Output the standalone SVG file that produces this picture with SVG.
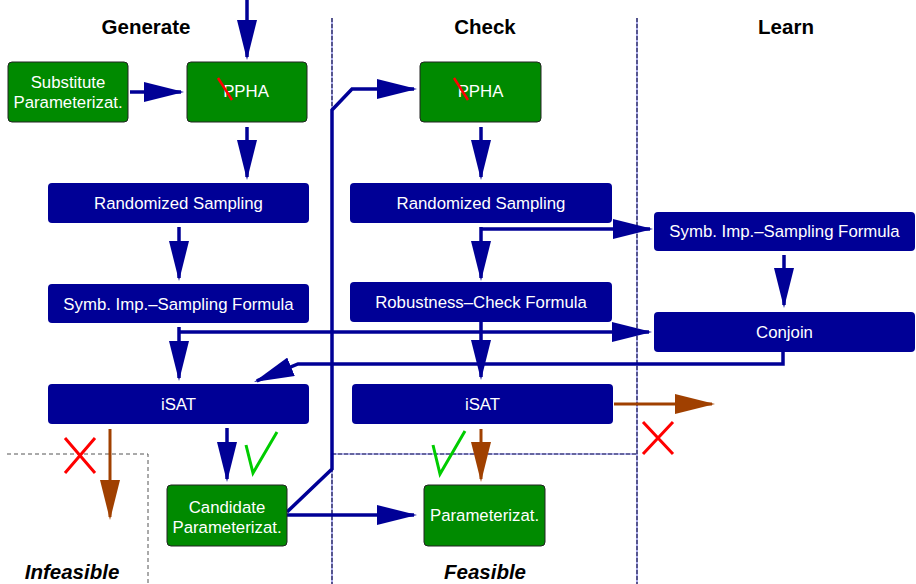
<svg xmlns="http://www.w3.org/2000/svg" width="916" height="584" viewBox="0 0 916 584">
  <style>
    .title { font-family: "Liberation Sans", Arial, sans-serif; font-size: 20.5px; font-weight: bold; fill: #000; text-anchor: middle; }
    .verdict { font-family: "Liberation Sans", Arial, sans-serif; font-size: 20.5px; font-weight: bold; font-style: italic; fill: #000; text-anchor: middle; }
    .lbl { font-family: "Liberation Sans", Arial, sans-serif; font-size: 16.8px; fill: #fff; text-anchor: middle; }
    .navy { fill: #000096; }
    .green { fill: #008a00; stroke: #222; stroke-width: 1; }
    .flow { fill: none; stroke: #000096; stroke-width: 3.5; marker-end: url(#ahNavy); }
    .plain { fill: none; stroke: #000096; stroke-width: 3.5; }
    .fail { fill: none; stroke: #a04000; stroke-width: 3; marker-end: url(#ahBrown); }
    .laneBase { stroke: #9a9ae8; stroke-width: 1.6; fill: none; }
    .laneDash { stroke: #1c1c50; stroke-width: 1.2; stroke-dasharray: 4 2; fill: none; }
    .grayDash { stroke: #555; stroke-width: 1; stroke-dasharray: 4 3; fill: none; }
    .cross { stroke: #ff0000; stroke-width: 3; fill: none; }
    .tick { stroke: #00cc00; stroke-width: 3; fill: none; }
    .strike { stroke: #ff0000; stroke-width: 2.5; }
  </style>
  <defs>
    <marker id="ahNavy" markerUnits="userSpaceOnUse" markerWidth="40" markerHeight="20" refX="37" refY="10" orient="auto">
      <path d="M0,0 L40,10 L0,20 z" fill="#000096"/>
    </marker>
    <marker id="ahBrown" markerUnits="userSpaceOnUse" markerWidth="40" markerHeight="20" refX="37" refY="10" orient="auto">
      <path d="M0,0 L40,10 L0,20 z" fill="#a04000"/>
    </marker>
  </defs>

  <rect width="916" height="584" fill="#fff"/>

  <!-- lane separators -->
  <g id="lanes">
    <path class="laneBase" d="M332,18 V584 M637,18 V584 M332,454 H637"/>
    <path class="laneDash" d="M332,18 V584 M637,18 V584 M332,454 H637"/>
    <path class="grayDash" d="M7,454 H148 V584"/>
  </g>

  <!-- headings -->
  <g id="headings">
    <text class="title" x="146" y="34">Generate</text>
    <text class="title" x="485" y="34">Check</text>
    <text class="title" x="786" y="34">Learn</text>
    <text class="verdict" x="72" y="579">Infeasible</text>
    <text class="verdict" x="485" y="579">Feasible</text>
  </g>

  <!-- connectors -->
  <g id="connectors">
    <path class="flow" d="M247,0 V57"/>
    <path class="flow" d="M130,92 H181"/>
    <path class="flow" d="M247,127 V177"/>
    <path class="flow" d="M179,227 V278"/>
    <path class="flow" d="M179,327 V378"/>
    <path class="flow" d="M179,332 H649"/>
    <path class="flow" d="M783,352 V364 H298 L256.8,380.9"/>
    <path class="flow" d="M481,127 V177"/>
    <path class="flow" d="M481,227 V278"/>
    <path class="flow" d="M481,229 H650"/>
    <path class="flow" d="M481,322 V377"/>
    <path class="flow" d="M784,255 V305"/>
    <path class="flow" d="M227,428 V479"/>
    <path class="flow" d="M287,512 L332,469 V110 L352,89 H414"/>
    <path class="flow" d="M287,515 H414"/>
    <path class="fail" d="M110,429 V517"/>
    <path class="fail" d="M481,429 V479"/>
    <path class="fail" d="M614,404 H712"/>
  </g>

  <!-- generate lane -->
  <g id="substitute">
    <rect class="green" x="8" y="62" width="120" height="60" rx="4"/>
    <text class="lbl" x="68" y="88">Substitute</text>
    <text class="lbl" x="68" y="108">Parameterizat.</text>
  </g>
  <g id="ppha-gen">
    <rect class="green" x="187" y="62" width="120" height="60" rx="4"/>
    <text class="lbl" x="246" y="97">PPHA</text>
    <line class="strike" x1="218" y1="78" x2="232" y2="100"/>
  </g>
  <g id="sampling-gen">
    <rect class="navy" x="48" y="183" width="261" height="40" rx="4"/>
    <text class="lbl" x="178.5" y="209">Randomized Sampling</text>
  </g>
  <g id="formula-gen">
    <rect class="navy" x="48" y="284" width="261" height="39" rx="4"/>
    <text class="lbl" x="178.5" y="310">Symb. Imp.–Sampling Formula</text>
  </g>
  <g id="isat-gen">
    <rect class="navy" x="48" y="384" width="261" height="40" rx="4"/>
    <text class="lbl" x="178.5" y="410">iSAT</text>
  </g>
  <g id="candidate">
    <rect class="green" x="167" y="485" width="120" height="61" rx="4"/>
    <text class="lbl" x="227" y="513">Candidate</text>
    <text class="lbl" x="227" y="533">Parameterizat.</text>
  </g>

  <!-- check lane -->
  <g id="ppha-check">
    <rect class="green" x="420" y="62" width="121" height="60" rx="4"/>
    <text class="lbl" x="480.5" y="97">PPHA</text>
    <line class="strike" x1="454" y1="78" x2="468" y2="100"/>
  </g>
  <g id="sampling-check">
    <rect class="navy" x="350" y="183" width="262" height="40" rx="4"/>
    <text class="lbl" x="481" y="209">Randomized Sampling</text>
  </g>
  <g id="robustness">
    <rect class="navy" x="350" y="282" width="262" height="40" rx="4"/>
    <text class="lbl" x="481" y="308">Robustness–Check Formula</text>
  </g>
  <g id="isat-check">
    <rect class="navy" x="352" y="384" width="261" height="40" rx="4"/>
    <text class="lbl" x="482.5" y="410">iSAT</text>
  </g>
  <g id="parameterization">
    <rect class="green" x="424" y="485" width="121" height="61" rx="4"/>
    <text class="lbl" x="484.5" y="521">Parameterizat.</text>
  </g>

  <!-- learn lane -->
  <g id="formula-learn">
    <rect class="navy" x="654" y="212" width="261" height="39" rx="4"/>
    <text class="lbl" x="784.5" y="237">Symb. Imp.–Sampling Formula</text>
  </g>
  <g id="conjoin">
    <rect class="navy" x="654" y="312" width="261" height="40" rx="4"/>
    <text class="lbl" x="784.5" y="338">Conjoin</text>
  </g>

  <!-- outcome marks -->
  <g id="marks">
    <path class="cross" d="M65,438 L95,473 M95,438 L65,473"/>
    <path class="cross" d="M643,422 L673,454 M673,422 L643,454"/>
    <polyline class="tick" points="246,445 253,473 277,432"/>
    <polyline class="tick" points="433,445 440,474 465,431"/>
  </g>
</svg>
